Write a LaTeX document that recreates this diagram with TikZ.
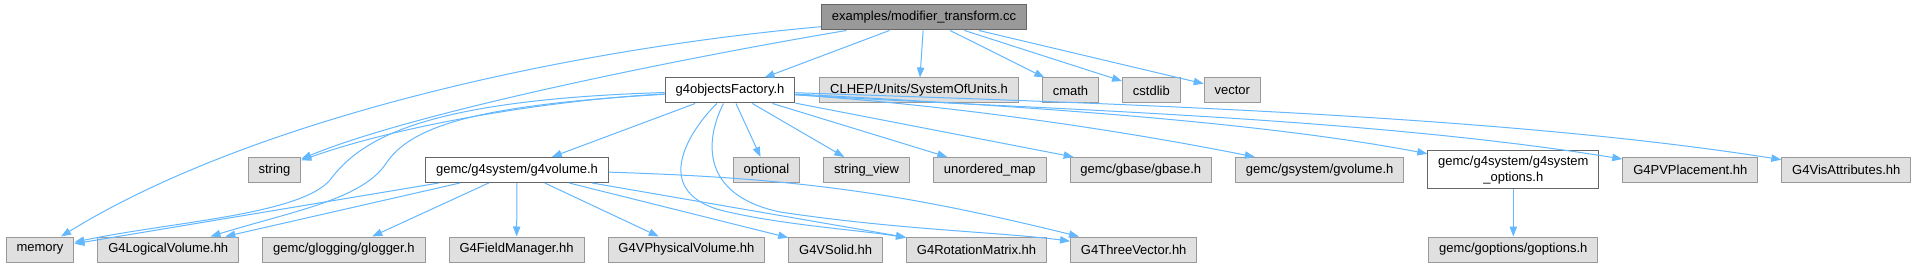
\documentclass[tikz,border=0pt]{standalone}
\usepackage{fontspec}
\setmainfont{Liberation Sans}
\usetikzlibrary{arrows.meta, positioning}

\definecolor{inclblue}{HTML}{63B8FF}
\definecolor{rootgray}{HTML}{999999}
\definecolor{framegray}{HTML}{666666}
\definecolor{extgray}{HTML}{E0E0E0}
\definecolor{extframe}{HTML}{999999}

\begin{document}
\begin{tikzpicture}[x=0.75pt, y=-0.75pt, node distance=17.25pt,
    hfile/.style={draw, rectangle, line width=0.75pt, minimum height=18.75pt, inner xsep=7.8pt, inner ysep=2pt, align=center, font=\fontsize{9.75}{11.5}\selectfont},
    rootnode/.style={hfile, fill=rootgray, draw=framegray},
    docnode/.style={hfile, fill=white, draw=framegray},
    extnode/.style={hfile, fill=extgray, draw=extframe},
    incl/.style={draw=inclblue, line width=0.75pt, -{Triangle[length=7.5pt, width=5.5pt]}}]
    \fill[white] (0,0) rectangle (1920,267);

    % Nodos: archivo principal y primer nivel
    \node (root) [rootnode] at (924,17.5) {examples/modifier\_transform.cc};
    \node (factory) [docnode] at (730,90.5) {g4objectsFactory.h};
    \node (clhep) [extnode, right=18pt of factory] {CLHEP/Units/SystemOfUnits.h};
    \node (cmath) [extnode, right=of clhep] {cmath};
    \node (cstdlib) [extnode, right=of cmath] {cstdlib};
    \node (vector) [extnode, right=of cstdlib] {vector};

    % Nodos: segundo nivel
    \node (string) [extnode] at (274.5,170) {string};
    \node (g4volume) [docnode] at (517,170) {gemc/g4system/g4volume.h};
    \node (optional) [extnode] at (766.5,170) {optional};
    \node (stringview) [extnode, right=of optional] {string\_view};
    \node (unorderedmap) [extnode, right=of stringview] {unordered\_map};
    \node (gbase) [extnode, right=of unorderedmap] {gemc/gbase/gbase.h};
    \node (gvolume) [extnode, right=of gbase] {gemc/gsystem/gvolume.h};
    \node (sysoptions) [docnode, minimum height=28.5pt, right=of gvolume] {gemc/g4system/g4system\\\_options.h};
    \node (pvplacement) [extnode, right=of sysoptions] {G4PVPlacement.hh};
    \node (visattr) [extnode, right=of pvplacement] {G4VisAttributes.hh};

    % Nodos: tercer nivel
    \node (memory) [extnode] at (40,249.5) {memory};
    \node (logvol) [extnode, right=of memory] {G4LogicalVolume.hh};
    \node (glogger) [extnode, right=of logvol] {gemc/glogging/glogger.h};
    \node (fieldmgr) [extnode, right=of glogger] {G4FieldManager.hh};
    \node (physvol) [extnode, right=of fieldmgr] {G4VPhysicalVolume.hh};
    \node (vsolid) [extnode, right=of physvol] {G4VSolid.hh};
    \node (rotmat) [extnode, right=of vsolid] {G4RotationMatrix.hh};
    \node (threevec) [extnode, right=of rotmat] {G4ThreeVector.hh};
    \node (goptions) [extnode, below=35.25pt of sysoptions] {gemc/goptions/goptions.h};

    % Inclusiones del archivo principal
    \draw[incl] (root) .. controls (560,50) and (250,120) .. (memory);
    \draw[incl] (root) .. controls (700,55) and (420,110) .. (string);
    \draw[incl] (root) -- (factory);
    \draw[incl] (root) -- (clhep);
    \draw[incl] (root) -- (cmath);
    \draw[incl] (root) -- (cstdlib);
    \draw[incl] (root) -- (vector);

    % Inclusiones de g4objectsFactory.h
    \draw[incl] (factory) .. controls (550,100) and (400,125) .. (string);
    \draw[incl] (factory) .. controls (420,100) and (360,140) .. (330,180) .. controls (300,215) and (170,222) .. (memory);
    \draw[incl] (factory) .. controls (480,105) and (410,125) .. (385,165) .. controls (360,200) and (290,212) .. (logvol);
    \draw[incl] (factory) -- (g4volume);
    \draw[incl] (factory) .. controls (690,130) and (650,190) .. (720,210) .. controls (780,225) and (860,230) .. (rotmat);
    \draw[incl] (factory) .. controls (705,140) and (700,195) .. (780,212) .. controls (900,230) and (1000,232) .. (threevec);
    \draw[incl] (factory) -- (optional);
    \draw[incl] (factory) -- (stringview);
    \draw[incl] (factory) -- (unorderedmap);
    \draw[incl] (factory) -- (gbase);
    \draw[incl] (factory) .. controls (950,105) and (1120,130) .. (gvolume);
    \draw[incl] (factory) .. controls (1000,105) and (1250,120) .. (sysoptions);
    \draw[incl] (factory) .. controls (1000,108) and (1350,115) .. (pvplacement);
    \draw[incl] (factory) .. controls (1100,103) and (1500,115) .. (visattr);

    % Inclusiones de g4volume.h y g4system_options.h
    \draw[incl] (g4volume) -- (memory);
    \draw[incl] (g4volume) -- (logvol);
    \draw[incl] (g4volume) -- (glogger);
    \draw[incl] (g4volume) -- (fieldmgr);
    \draw[incl] (g4volume) -- (physvol);
    \draw[incl] (g4volume) -- (vsolid);
    \draw[incl] (g4volume) -- (rotmat);
    \draw[incl] (g4volume) to[bend left=6] (threevec);
    \draw[incl] (sysoptions) -- (goptions);
\end{tikzpicture}
\end{document}
